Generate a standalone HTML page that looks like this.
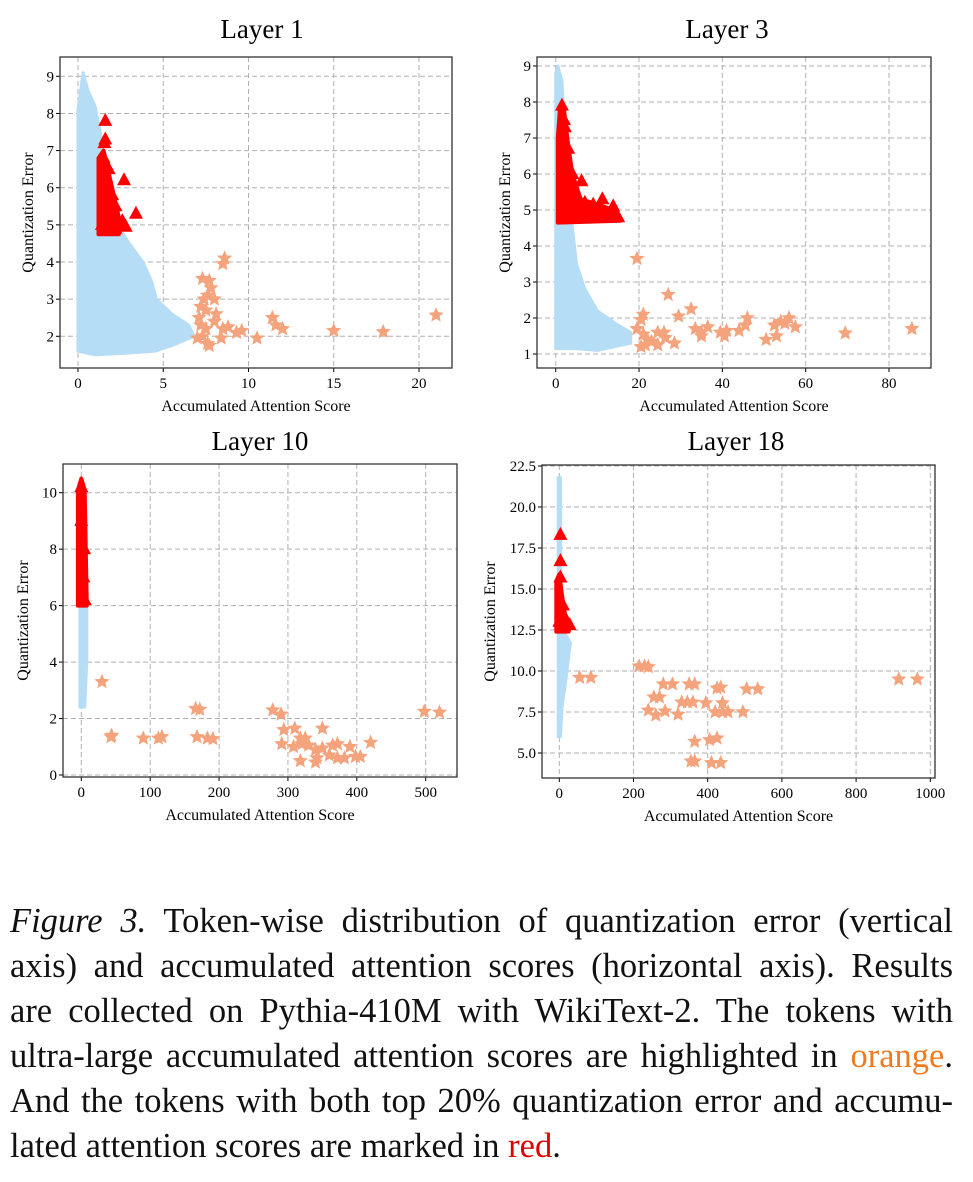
<!DOCTYPE html>
<html><head><meta charset="utf-8">
<style>
body{margin:0;background:#fff;width:973px;height:1182px;position:relative;overflow:hidden;font-family:"Liberation Serif",serif}
svg{position:absolute;left:0;top:0}
.cap{position:absolute;left:10px;width:943px;font-size:34.5px;line-height:38px;text-align:justify;text-align-last:justify;color:#111;white-space:nowrap}
.cap.last{text-align-last:left}
</style></head><body>
<svg id="fig" width="973" height="870" viewBox="0 0 973 870"></svg>
<div class="cap" style="top:902px"><i>Figure 3.</i> Token-wise distribution of quantization error (vertical</div>
<div class="cap" style="top:947px">axis) and accumulated attention scores (horizontal axis). Results</div>
<div class="cap" style="top:992px">are collected on Pythia-410M with WikiText-2. The tokens with</div>
<div class="cap" style="top:1037px">ultra-large accumulated attention scores are highlighted in <span style="color:#f07b20">orange</span>.</div>
<div class="cap" style="top:1082px">And the tokens with both top 20% quantization error and accumu-</div>
<div class="cap last" style="top:1127px">lated attention scores are marked in <span style="color:#e00000">red</span>.</div>
<script>
// ---- Layer 1 data ----
const l1Blue=[[0,1.7],[0,8.1],[0.3,9.1],[0.6,8.6],[1.0,8.2],[1.3,7.5],[1.8,6.0],[2.3,5.0],[3.0,4.5],[3.8,4.0],[4.3,3.5],[4.6,3.0],[5.5,2.6],[6.5,2.3],[6.8,2.0],[5.5,1.75],[4.5,1.6],[3,1.55],[1,1.5],[0,1.6]];
const l1RedArea=[[1.2,4.75],[1.2,6.8],[1.5,7.0],[2.0,6.0],[2.5,5.0],[2.4,4.75]];
const l1Tri=[[1.6,7.8],[1.6,7.3],[1.55,7.2],[2.7,6.2],[3.4,5.3],[2.6,5.1],[2.8,4.95],[1.5,6.8],[1.8,6.5],[2.0,5.8],[2.2,5.5],[1.4,5.0],[2.2,4.9]];
const l1Star=[[7.3,3.55],[7.7,3.5],[7.8,3.3],[7.6,3.1],[7.4,3.0],[8.0,3.0],[7.2,2.8],[7.5,2.7],[7.1,2.5],[8.1,2.6],[8.0,2.4],[7.2,2.3],[7.5,2.2],[7.3,2.0],[7.0,1.95],[7.6,1.8],[7.7,1.75],[8.5,2.2],[8.8,2.25],[8.4,1.95],[9.3,2.1],[9.6,2.15],[10.5,1.95],[11.4,2.5],[11.6,2.3],[12.0,2.2],[8.6,4.1],[8.5,3.95],[15,2.15],[17.9,2.12],[21,2.57]];
const l1XTicks=[0,5,10,15,20], l1YTicks=[2,3,4,5,6,7,8,9];
// ---- Layer 3 data ----
const l3Blue=[[0,1.15],[0,8.8],[0.5,9.0],[1.5,8.6],[2,7.5],[3,5.5],[4,4.5],[5,3.5],[7,2.8],[10,2.2],[15,1.8],[18,1.6],[18,1.3],[10,1.1],[5,1.15]];
const l3RedArea=[[0.5,4.65],[0.5,7.0],[1,7.8],[2,7.8],[3,6.8],[4,6.0],[6,5.3],[14,5.0],[15.5,4.7]];
const l3Tri=[[1.5,7.9],[2,7.5],[2.2,7.3],[6.2,5.8],[11.2,5.3],[13.8,5.1],[9,5.15],[15,4.8],[7,5.2],[3,6.7],[4,6.0],[10,4.9],[12,4.85]];
const l3Star=[[19.5,3.65],[27,2.65],[32.5,2.25],[29.5,2.05],[21,2.1],[20.5,1.95],[19.5,1.7],[21,1.55],[22,1.4],[20.5,1.2],[21.5,1.25],[23,1.35],[24.5,1.6],[24.5,1.25],[26,1.6],[26.3,1.45],[28.5,1.3],[33.5,1.7],[35,1.6],[35,1.5],[36.5,1.75],[39.5,1.6],[40.5,1.5],[41,1.65],[44,1.65],[45.5,1.8],[46,2.0],[50.5,1.4],[53,1.5],[52.5,1.8],[54,1.9],[55,1.85],[56,2.0],[57.5,1.75],[69.5,1.58],[85.5,1.7]];
const l3XTicks=[0,20,40,60,80], l3YTicks=[1,2,3,4,5,6,7,8,9];
// ---- Layer 10 data ----
const l10Blue=[[-2,2.4],[-2,6],[8,6],[8,4],[5,2.4]];
const l10RedArea=[[-5,6],[-5,10.1],[0,10.5],[5,10.1],[8,6]];
const l10Tri=[[0,10.2],[0,9],[4,8],[3,7],[5,6.2]];
const l10Star=[[30,3.3],[44,1.4],[43,1.35],[90,1.3],[112,1.3],[117,1.35],[166,2.35],[172,2.32],[168,1.35],[183,1.3],[191,1.28],[278,2.3],[290,2.15],[294,1.6],[291,1.1],[310,1.65],[308,1.0],[318,1.3],[320,1.1],[325,1.3],[330,1.05],[318,0.5],[340,0.9],[342,0.6],[340,0.45],[350,1.65],[350,0.95],[360,0.7],[365,1.05],[372,1.1],[372,0.6],[382,0.6],[390,1.0],[398,0.65],[405,0.65],[420,1.15],[498,2.25],[520,2.22]];
const l10XTicks=[0,100,200,300,400,500], l10YTicks=[0,2,4,6,8,10];
// ---- Layer 18 data ----
const l18Blue=[[-3,6],[-3,21.8],[3,21.8],[5,12.5],[15,12.3],[30,11.7],[15,9],[8,8],[3,6]];
const l18RedArea=[[-8,12.4],[-8,15.5],[0,15.9],[8,14.5],[15,13.5],[30,12.8],[25,12.4]];
const l18Tri=[[3,18.3],[3,16.7],[3,15.7],[10,14],[28,12.8],[0,13]];
const l18Star=[[55,9.6],[85,9.6],[215,10.3],[230,10.3],[240,10.25],[280,9.2],[305,9.2],[350,9.2],[365,9.2],[255,8.4],[270,8.4],[330,8.1],[345,8.1],[360,8.1],[395,8.05],[440,8.05],[240,7.6],[260,7.3],[285,7.55],[320,7.35],[420,7.5],[440,7.5],[455,7.5],[495,7.5],[425,8.95],[435,9.0],[505,8.9],[535,8.9],[365,5.7],[405,5.8],[425,5.9],[355,4.5],[365,4.5],[410,4.4],[435,4.4],[915,9.5],[965,9.5]];
const l18XTicks=[0,200,400,600,800,1000], l18YTicks=[5.0,7.5,10.0,12.5,15.0,17.5,20.0,22.5];

const NS='http://www.w3.org/2000/svg';
const svg=document.getElementById('fig');
function mk(tag,attrs,parent){const e=document.createElementNS(NS,tag);for(const k in attrs)e.setAttribute(k,attrs[k]);(parent||svg).appendChild(e);return e;}
function starPath(cx,cy,r){let p='';for(let i=0;i<10;i++){const rr=i%2?r*0.45:r;const a=-Math.PI/2+i*Math.PI/5;p+=(i?'L':'M')+(cx+rr*Math.cos(a)).toFixed(1)+','+(cy+rr*Math.sin(a)).toFixed(1);}return p+'Z';}
function panel(o){
  const g=mk('g',{});
  
  
  const sx=v=>o.x0+(v-o.xa)*(o.x1-o.x0)/(o.xb-o.xa);
  const sy=v=>o.y0+(v-o.ya)*(o.y1-o.y0)/(o.yb-o.ya);
  const t=mk('text',{x:o.tx,y:o.ty,'font-size':27,'text-anchor':'middle',fill:'#000','font-family':'Liberation Serif'},g);t.textContent=o.title;
  
  
  o.xt.forEach(v=>{const l=mk('line',{x1:sx(v),x2:sx(v),y1:o.T,y2:o.B,stroke:'#b0b0b0','stroke-dasharray':'5,3','stroke-width':1},g);
    
    
    mk('line',{x1:sx(v),x2:sx(v),y1:o.B,y2:o.B+4,stroke:'#000'},g);
    const tx=mk('text',{x:sx(v),y:o.B+20,'font-size':15,'text-anchor':'middle','font-family':'Liberation Serif'},g);tx.textContent=String(v);
    
    });
  o.yt.forEach(v=>{const l=mk('line',{x1:o.L,x2:o.R,y1:sy(v),y2:sy(v),stroke:'#b0b0b0','stroke-dasharray':'5,3','stroke-width':1},g);
    
    
    mk('line',{x1:o.L-4,x2:o.L,y1:sy(v),y2:sy(v),stroke:'#000'},g);
    const tx=mk('text',{x:o.L-6,y:sy(v)+5,'font-size':15,'text-anchor':'end','font-family':'Liberation Serif'},g);tx.textContent=o.yfmt?v.toFixed(1):String(v);
    
    });
  const pts=a=>a.map(p=>sx(p[0]).toFixed(1)+','+sy(p[1]).toFixed(1)).join(' ');
  const b=mk('polygon',{points:pts(o.blue),fill:'#b5ddf6',stroke:'#b5ddf6','stroke-width':3,'stroke-linejoin':'round'},g);
  
  
  const r=mk('polygon',{points:pts(o.red),fill:'#ff0000',stroke:'#ff0000','stroke-width':4,'stroke-linejoin':'round'},g);
  
  
  o.tri.forEach(p=>{const cx=sx(p[0]),cy=sy(p[1]);const e=mk('polygon',{points:`${cx},${cy-8} ${cx-7},${cy+5} ${cx+7},${cy+5}`,fill:'#ff0000'},g);
    
    });
  o.star.forEach(p=>{const e=mk('path',{d:starPath(sx(p[0]),sy(p[1]),8),fill:'#f4a37c'},g);
    
    });
  const fr=mk('rect',{x:o.L,y:o.T,width:o.R-o.L,height:o.B-o.T,fill:'none',stroke:'#333','stroke-width':1.3},g);
  
  
  const xl=mk('text',{x:(o.L+o.R)/2,y:o.B+43,'font-size':16,'text-anchor':'middle','font-family':'Liberation Serif'},g);xl.textContent='Accumulated Attention Score';
  
  
  const yc=(o.T+o.B)/2;const yl=mk('text',{x:o.ylx,y:yc,'font-size':16,'text-anchor':'middle','font-family':'Liberation Serif',transform:`rotate(-90 ${o.ylx} ${yc})`},g);yl.textContent='Quantization Error';
  
  
}
panel({name:'layer-1-chart',title:'Layer 1',tx:262,ty:38,L:60,R:452,T:57,B:368,x0:78,x1:419,xa:0,xb:20,y0:336.3,y1:76.3,ya:2,yb:9,xt:l1XTicks,yt:l1YTicks,blue:l1Blue,red:l1RedArea,tri:l1Tri,star:l1Star,ylx:33});
panel({name:'layer-3-chart',title:'Layer 3',tx:727,ty:38,L:537,R:931,T:57,B:368,x0:555.7,x1:889,xa:0,xb:80,y0:354,y1:66,ya:1,yb:9,xt:l3XTicks,yt:l3YTicks,blue:l3Blue,red:l3RedArea,tri:l3Tri,star:l3Star,ylx:510});
panel({name:'layer-10-chart',title:'Layer 10',tx:260,ty:450,L:63,R:457,T:464,B:777,x0:81.3,x1:425.7,xa:0,xb:500,y0:775,y1:492.7,ya:0,yb:10,xt:l10XTicks,yt:l10YTicks,blue:l10Blue,red:l10RedArea,tri:l10Tri,star:l10Star,ylx:28});
panel({name:'layer-18-chart',title:'Layer 18',tx:736,ty:450,L:542,R:935,T:465,B:778,x0:559.3,x1:930.3,xa:0,xb:1000,y0:753,y1:466,ya:5,yb:22.5,xt:l18XTicks,yt:l18YTicks,blue:l18Blue,red:l18RedArea,tri:l18Tri,star:l18Star,ylx:495,yfmt:true});
</script>
</body></html>
